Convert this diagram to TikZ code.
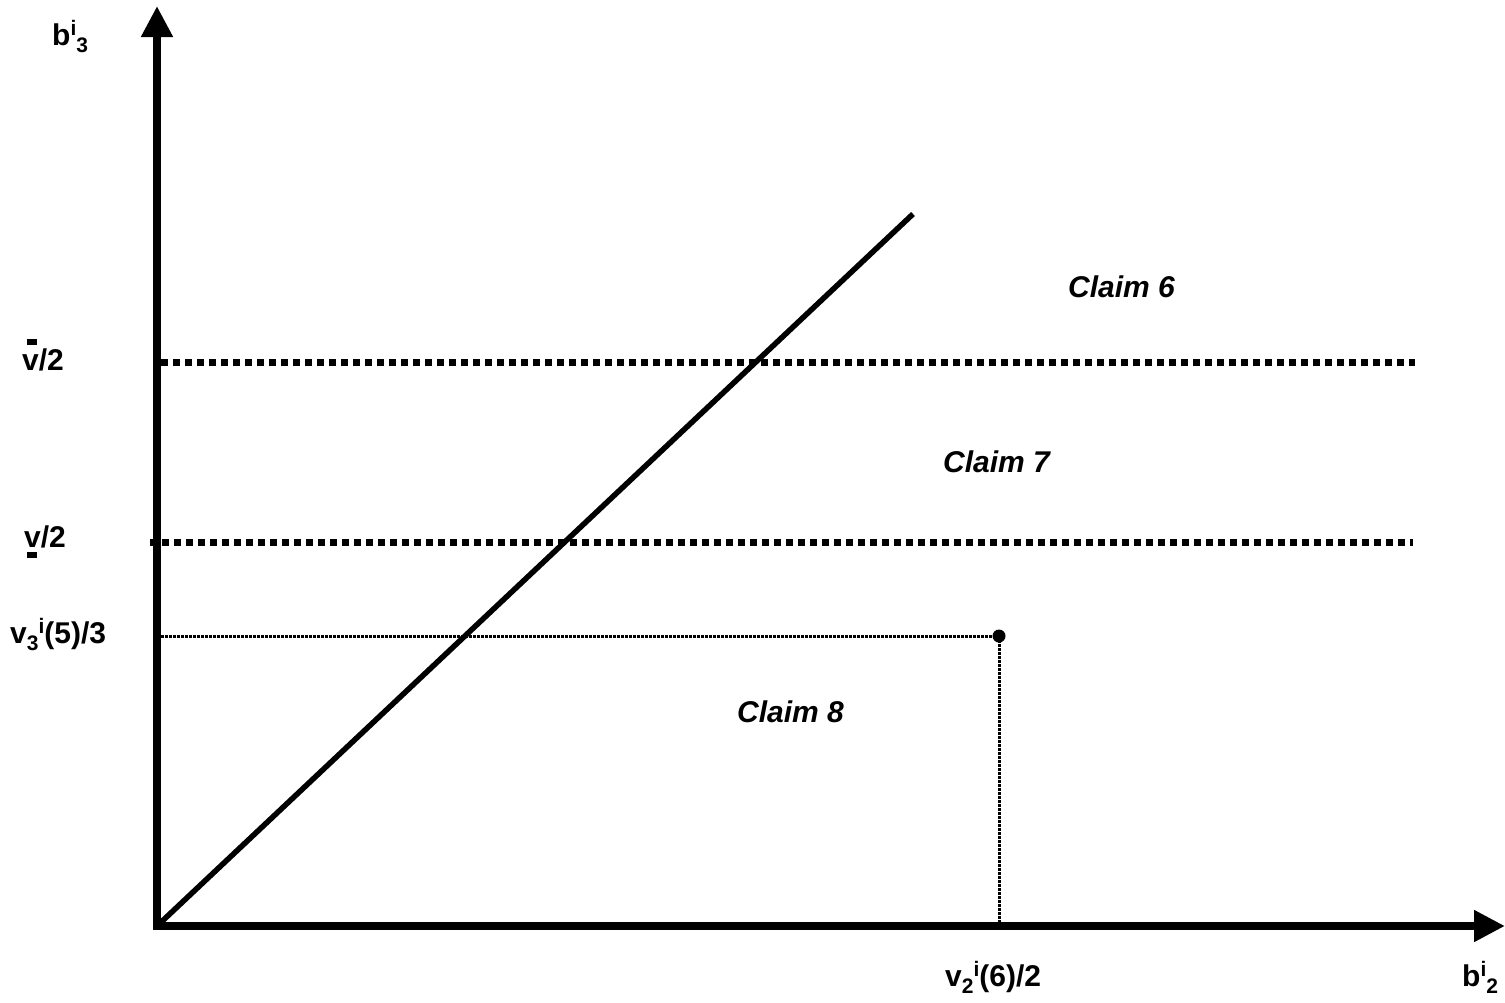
\documentclass[tikz,border=0pt]{standalone}
\usepackage{fontspec}
\setmainfont{Liberation Sans}
\usetikzlibrary{arrows.meta}

% small raised / lowered indices in the text font
\newcommand\lowidx[1]{\raisebox{-7pt}{\fontsize{21}{21}\selectfont #1}}
\newcommand\highidx[1]{\raisebox{10pt}{\fontsize{21}{21}\selectfont #1}}

\begin{document}
\begin{tikzpicture}[x=1pt,y=-1pt,
  axisline/.style={line width=8pt,-{Triangle[length=31pt,width=30pt]}},
  boundline/.style={line width=7pt,dash pattern=on 7pt off 5pt},
  guideline/.style={line width=3pt,dash pattern=on 2.5pt off 1.5pt},
  diagline/.style={line width=5.5pt},
  lbl/.style={inner sep=0pt,anchor=base west,font=\fontsize{30}{36}\selectfont\bfseries},
  claim/.style={lbl,font=\fontsize{30}{36}\selectfont\bfseries\itshape}]
\useasboundingbox (0,0) rectangle (1505,1002);

% axes
\coordinate (O) at (157,926);
\coordinate (ybot) at (157,930);
\coordinate (ytop) at (157,6);
\coordinate (xleft) at (153,926);
\coordinate (xright) at (1505,926);
\draw[axisline] (ybot) -- (ytop);
\draw[axisline] (xleft) -- (xright);

% 45-degree ray from the origin
\coordinate (rayend) at (913,214);
\draw[diagline] (O) -- (rayend);

% upper and lower bounds
\coordinate (ub1) at (161,362);
\coordinate (ub2) at (1415,362);
\coordinate (lb1) at (150,542);
\coordinate (lb2) at (1413,542);
\draw[boundline] (ub1) -- (ub2);
\draw[boundline] (lb1) -- (lb2);

% the point with its guide lines
\coordinate (gl) at (161,636);
\node[circle,fill=black,inner sep=0pt,minimum size=13pt] (pt) at (999,636) {};
\coordinate (gb) at (999,922);
\draw[guideline] (gl) -- (pt.center);
\draw[guideline] (pt.center) -- (gb);

% axis labels
\node[lbl] (by) at (52,45) {b\highidx{i}\lowidx{3}};
\node[lbl] (bx) at (1462,986) {b\highidx{i}\lowidx{2}};
\node[lbl] (vhi) at (22,370) {\rlap{\hspace{5pt}\rule[25pt]{10pt}{6pt}}v/2};
\node[lbl] (vlo) at (24,547) {\rlap{\hspace{3pt}\rule[-11pt]{10pt}{6pt}}v/2};
\node[lbl] (v3) at (10,643) {v\lowidx{3}\highidx{i}(5)/3};
\node[lbl] (v2) at (945,986) {v\lowidx{2}\highidx{i}(6)/2};

% regions
\node[claim] (c6) at (1068,297) {Claim 6};
\node[claim] (c7) at (943,472) {Claim 7};
\node[claim] (c8) at (737,722) {Claim 8};
\end{tikzpicture}
\end{document}
